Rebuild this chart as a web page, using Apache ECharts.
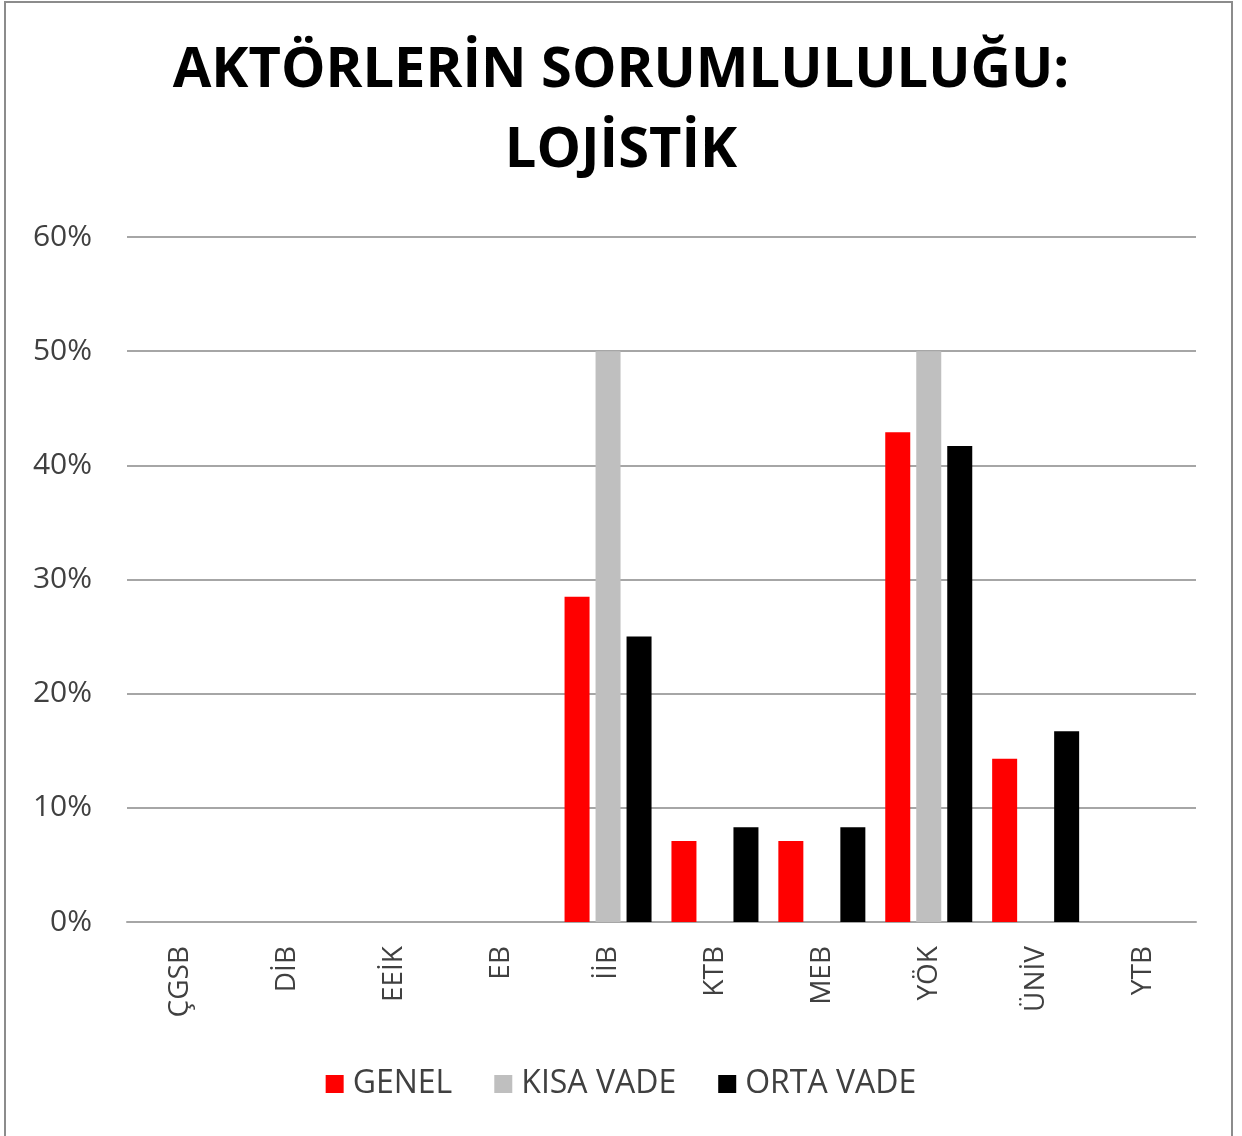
<!DOCTYPE html>
<html>
<head>
<meta charset="utf-8">
<script src="https://cdn.jsdelivr.net/npm/echarts@6/dist/echarts.min.js"></script>
<style>
html,body{margin:0;padding:0;background:#fff;}
#chart{width:1242px;height:1136px;}
#frame{position:absolute;left:4px;top:1px;width:1229px;height:1140px;border:2px solid #8c8c8c;pointer-events:none;box-sizing:border-box;}
</style>
</head>
<body>
<div id="chart"></div>
<div id="frame"></div>
<script>
const titleText = 'AKTÖRLERİN SORUMLULULUĞU:\nLOJİSTİK';
const categories = ['ÇGSB','DİB','EEİK','EB','İİB','KTB','MEB','YÖK','ÜNİV','YTB'];
const seriesNames = ['GENEL','KISA VADE','ORTA VADE'];
const genel = [0,0,0,0,28.5,7.1,7.1,42.9,14.3,0];
const kisaVade = [0,0,0,0,50,0,0,50,0,0];
const ortaVade = [0,0,0,0,25,8.3,8.3,41.7,16.7,0];
const colors = ['#ff0000','#bfbfbf','#000000'];

const chart = echarts.init(document.getElementById('chart'));
const mk = (name, data, color) => ({
  name, type:'bar', data, barWidth:25, barGap:'24%',
  itemStyle:{color}
});
chart.setOption({
  animation:false,
  backgroundColor:'#fff',
  title:{
    text:titleText, left:'center', top:26,
    textStyle:{fontFamily:'Open Sans', fontWeight:'bold', fontSize:56, lineHeight:80, color:'#000'}
  },
  legend:{
    bottom:31, left:'center', itemWidth:18, itemHeight:18, itemGap:42,
    icon:'rect',
    textStyle:{fontFamily:'Open Sans', fontSize:32, color:'#404040', padding:[0,0,0,4]},
    data:seriesNames
  },
  grid:{left:127, right:46, top:237, bottom:214, containLabel:false},
  xAxis:{
    type:'category', data:categories,
    axisLine:{lineStyle:{color:'#a6a6a6', width:2}},
    axisTick:{show:false},
    axisLabel:{rotate:90, margin:24, fontFamily:'Open Sans', fontSize:28, color:'#404040'}
  },
  yAxis:{
    type:'value', min:0, max:60, interval:10,
    axisLine:{show:false}, axisTick:{show:false},
    splitLine:{lineStyle:{color:'#a6a6a6', width:2}},
    axisLabel:{formatter:'{value}%', margin:35, fontFamily:'Open Sans', fontSize:30, color:'#404040'}
  },
  series:[mk(seriesNames[0],genel,colors[0]), mk(seriesNames[1],kisaVade,colors[1]), mk(seriesNames[2],ortaVade,colors[2])]
});
</script>
</body>
</html>
